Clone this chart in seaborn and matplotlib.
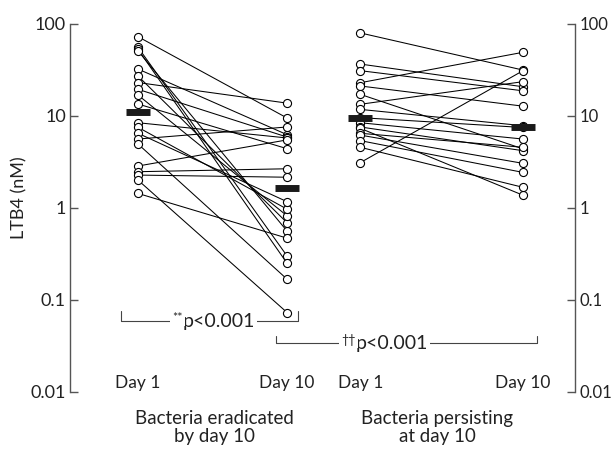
import numpy as np
import pandas as pd
import matplotlib
matplotlib.use("Agg")
import matplotlib.pyplot as plt
import seaborn as sns

# LTB4 (nM), paired per patient: day 1 -> day 10
erad_day1 = [72.8, 55.8, 53.0, 51.0, 32.4, 27.2, 23.1, 19.5, 16.9, 13.5,
             8.45, 7.54, 6.49, 5.62, 4.96, 2.86, 2.48, 2.28, 2.01, 1.44]
erad_day10 = [9.5, 0.30, 0.25, 0.56, 6.26, 0.69, 13.8, 5.9, 0.82, 4.41,
              5.77, 0.97, 1.17, 7.6, 0.168, 5.5, 2.67, 2.16, 0.073, 0.47]
pers_day1 = [80.0, 36.7, 31.1, 23.0, 21.2, 17.2, 13.4, 11.8, 9.6, 8.45,
             7.6, 7.35, 6.49, 6.2, 5.4, 4.57, 3.11]
pers_day10 = [31.6, 20.8, 18.8, 49.2, 12.8, 4.4, 23.6, 7.85, 7.5, 5.62,
              4.2, 1.38, 4.57, 3.06, 2.44, 1.68, 31.0]

day_labels = ["Day 1", "Day 10", "Day 1", "Day 10"]
group_labels = ["Bacteria eradicated\nby day 10", "Bacteria persisting\nat day 10"]
yticks = [0.01, 0.1, 1, 10, 100]
ytick_labels = ["0.01", "0.1", "1", "10", "100"]
xpos = [0, 1, 1.49, 2.58]

rows = []
for i, (a, b) in enumerate(zip(erad_day1, erad_day10)):
    rows.append(dict(subject="e%d" % i, x=xpos[0], value=a))
    rows.append(dict(subject="e%d" % i, x=xpos[1], value=b))
for i, (a, b) in enumerate(zip(pers_day1, pers_day10)):
    rows.append(dict(subject="p%d" % i, x=xpos[2], value=a))
    rows.append(dict(subject="p%d" % i, x=xpos[3], value=b))
df = pd.DataFrame(rows)

sns.set_style("white")
plt.rcParams["font.family"] = ["Lato", "DejaVu Sans"]
txt = "#222222"

fig = plt.figure(figsize=(6.12, 4.5), dpi=100)
ax = fig.add_axes([70 / 612, 58 / 450, 505 / 612, 368 / 450])

sns.lineplot(data=df, x="x", y="value", units="subject", estimator=None,
             color="black", lw=0.75, ax=ax, legend=False)
sns.scatterplot(data=df, x="x", y="value", marker="o", s=34, facecolor="white",
                edgecolor="black", linewidth=0.8, ax=ax, zorder=3, legend=False)

for x, vals in zip(xpos, [erad_day1, erad_day10, pers_day1, pers_day10]):
    ax.hlines(np.median(vals), x - 0.08, x + 0.08, color="#1a1a1a", lw=5, zorder=4)

ax.set_yscale("log")
ax.set_ylim(0.01, 100)
ax.set_xlim(-0.456, 2.93)
ax.set_yticks(yticks)
ax.set_yticklabels(ytick_labels)
ax.minorticks_off()
ax.set_xticks([])
ax.set_xlabel("")
ax.set_ylabel("LTB4 (nM)", fontsize=13, color=txt)
ax.yaxis.set_label_coords(-0.085, 0.527)
ax.tick_params(axis="y", which="major", direction="in", length=6, width=1,
               color="#555555", labelsize=13, labelcolor=txt, pad=3,
               left=True, right=True, labelleft=True, labelright=True)
for t in ax.yaxis.get_major_ticks():
    t.label2.set_fontsize(12)
for s in ["top", "bottom"]:
    ax.spines[s].set_visible(False)
for s in ["left", "right"]:
    ax.spines[s].set_color("#555555")
    ax.spines[s].set_linewidth(1)

# significance brackets
def bracket(x0, x1, ytop, ybot, mark, xt):
    ax.plot([x0, x0, x1, x1], [ytop, ybot, ybot, ytop], color="#444444", lw=0.8,
            clip_on=False)
    box = dict(facecolor="white", edgecolor="none", pad=1.5)
    ax.text(xt, ybot, "p<0.001", ha="left", va="center", fontsize=14,
            color=txt, bbox=box, zorder=5)
    ax.text(xt, ybot * 1.08, mark, ha="right", va="center", fontsize=9,
            color=txt, bbox=box, zorder=5)

bracket(-0.114, 1.074, 0.076, 0.059, "**", 0.30)
bracket(0.926, 2.678, 0.0406, 0.034, "\u2020\u2020", 1.46)

for x, lab in zip(xpos, day_labels):
    ax.text(x, 0.0125, lab, ha="center", va="center", fontsize=12.5, color=txt)

for x, lab in zip([(xpos[0] + xpos[1]) / 2 + 0.01, (xpos[2] + xpos[3]) / 2 - 0.03], group_labels):
    ax.text(x, 0.0064, lab, ha="center", va="top", fontsize=13.5, color=txt,
            linespacing=1.1, clip_on=False)

fig.savefig("out.png", dpi=100)
